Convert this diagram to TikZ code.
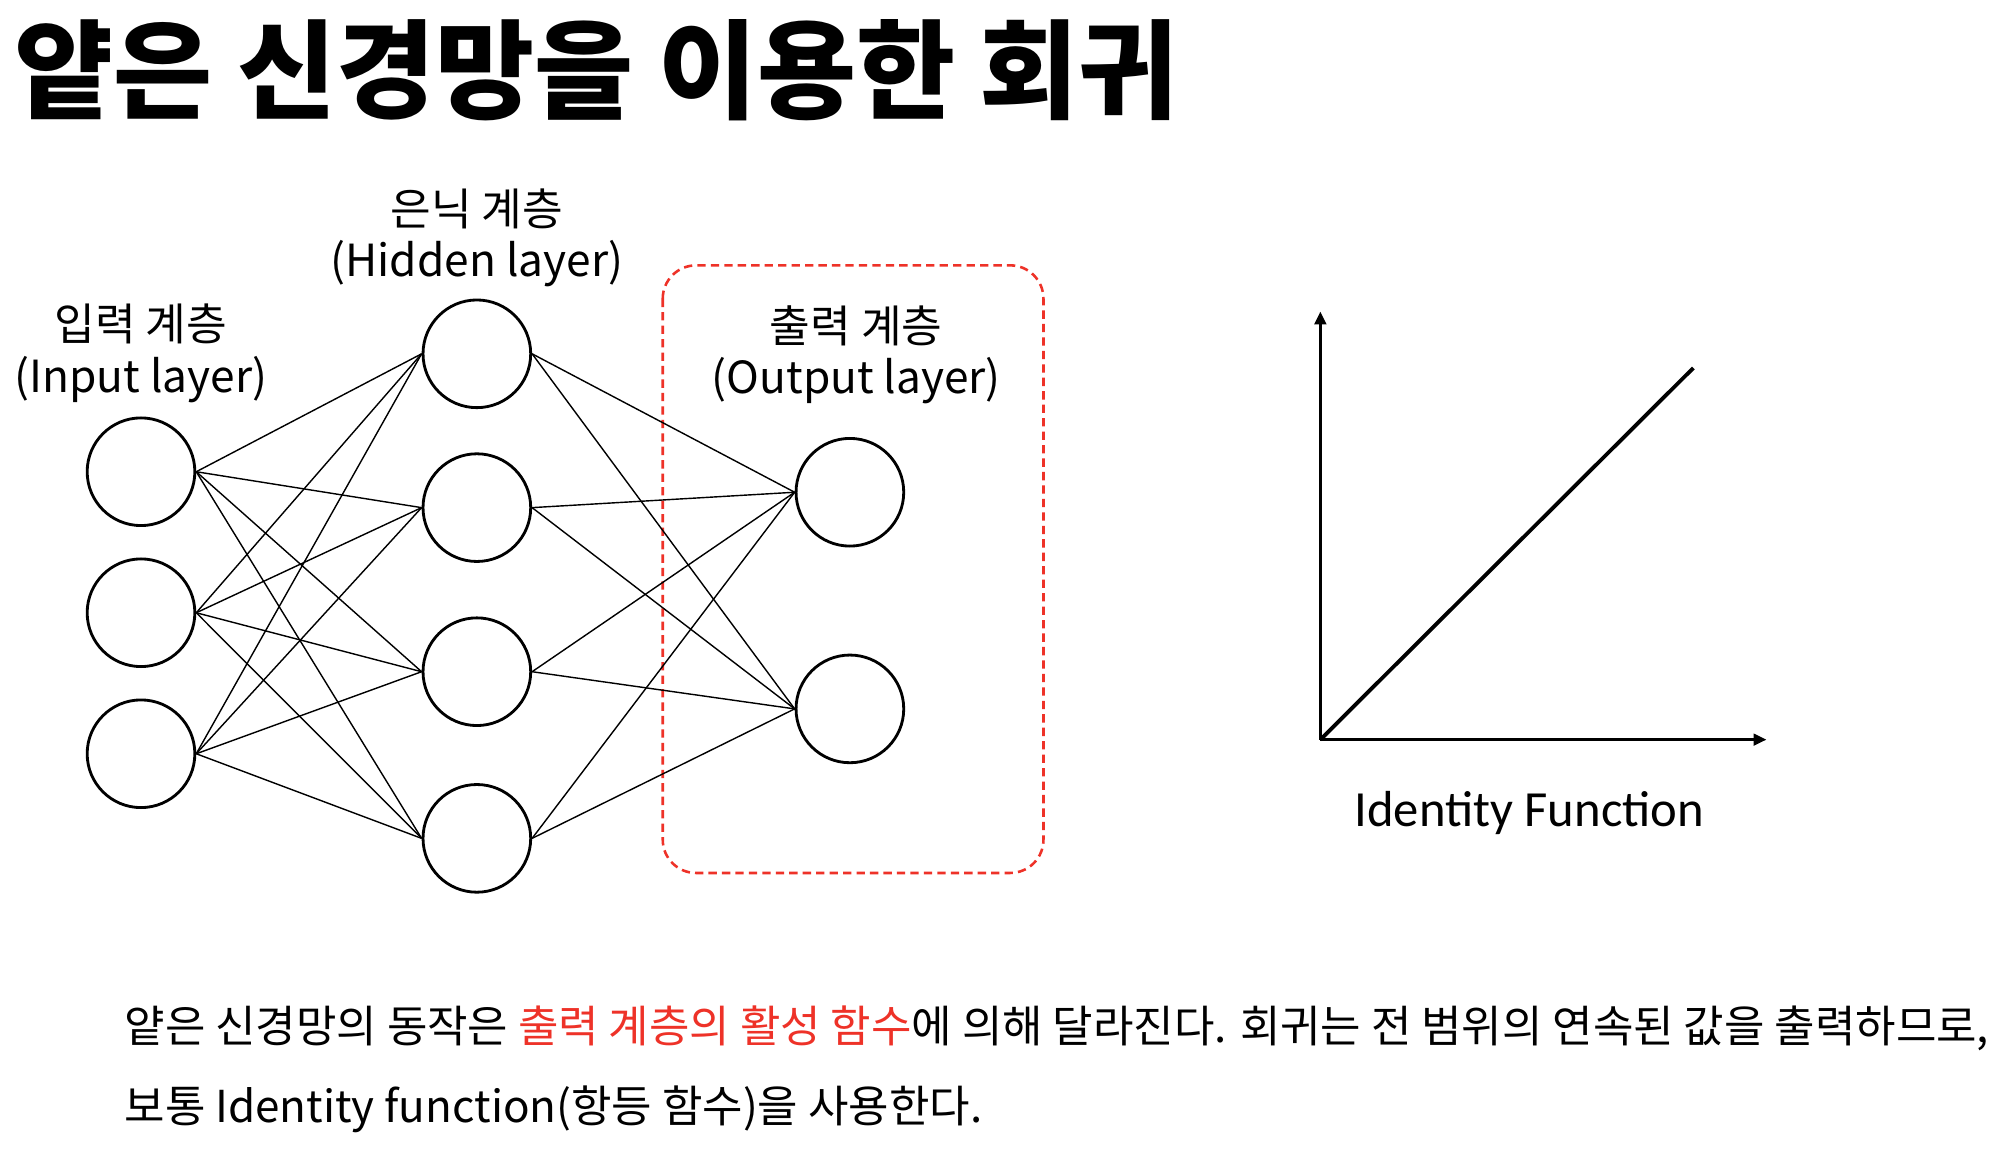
\documentclass[tikz,border=0pt]{standalone}
\usepackage{fontspec}
\setmainfont{Noto Sans CJK KR}
\newfontfamily\calib{Carlito}
\usetikzlibrary{arrows.meta}
\definecolor{hlred}{RGB}{238,50,40}
\begin{document}
\begin{tikzpicture}[x=1pt,y=-1pt,
  neuron/.style={circle,draw,line width=2.2pt,minimum size=84pt,inner sep=0pt},
  link/.style={line width=1.1pt},
  lbl/.style={anchor=base,inner sep=0pt,font=\fontsize{34.5}{42}\selectfont},
  body/.style={anchor=base west,inner sep=0pt,font=\fontsize{34.3}{40}\selectfont},
  axis/.style={line width=2.2pt,-{Triangle[length=10pt,width=9pt]}},
 ]
\fill[white] (0,0) rectangle (1568,899);

% title
\node[anchor=base west,inner sep=0pt,font=\fontsize{84}{90}\selectfont\bfseries] (title) at (11,86) {얕은 신경망을 이용한 회귀};

% output layer frame
\draw[hlred,dash pattern=on 6.5pt off 4pt,line width=2pt,rounded corners=26pt] (517,207) rectangle (814,681);

% neurons
\node[neuron] (i1) at (110,368) {};
\node[neuron] (i2) at (110,478) {};
\node[neuron] (i3) at (110,588) {};
\node[neuron] (h1) at (372,276) {};
\node[neuron] (h2) at (372,396) {};
\node[neuron] (h3) at (372,524) {};
\node[neuron] (h4) at (372,654) {};
\node[neuron] (o1) at (663,384) {};
\node[neuron] (o2) at (663,553) {};

% connections, from the right side of one neuron to the left side of the next
\foreach \a in {i1,i2,i3}
  \foreach \b in {h1,h2,h3,h4}
    \draw[link] (\a.east) -- (\b.west);
\foreach \a in {h1,h2,h3,h4}
  \foreach \b in {o1,o2}
    \draw[link] (\a.east) -- (\b.west);

% layer labels
\node[lbl] (lin1) at (110,266) {입력 계층};
\node[lbl] (lin2) at (110,306) {(Input layer)};
\node[lbl] (lhid1) at (372,176) {은닉 계층};
\node[lbl] (lhid2) at (372,216) {(Hidden layer)};
\node[lbl] (lout1) at (668,267) {출력 계층};
\node[lbl] (lout2) at (668,307) {(Output layer)};

% identity function plot
\coordinate (org) at (1030,577);
\coordinate (ytip) at (1030,243);
\coordinate (xtip) at (1378,577);
\coordinate (lend) at (1321,287);
\draw[axis] (org) -- (ytip);
\draw[axis] (org) -- (xtip);
\draw[line width=3pt] (org) -- (lend);
\node[anchor=base,inner sep=0pt,font=\calib\fontsize{39.5}{44}\selectfont] (idf) at (1193,645) {Identity Function};

% description
\node[body] (t1) at (97,813) {얕은 신경망의 동작은 \textcolor{hlred}{출력 계층의 활성 함수}에 의해 달라진다. 회귀는 전 범위의 연속된 값을 출력하므로,};
\node[body] (t2) at (97,876) {보통 Identity function(항등 함수)을 사용한다.};
\end{tikzpicture}
\end{document}
